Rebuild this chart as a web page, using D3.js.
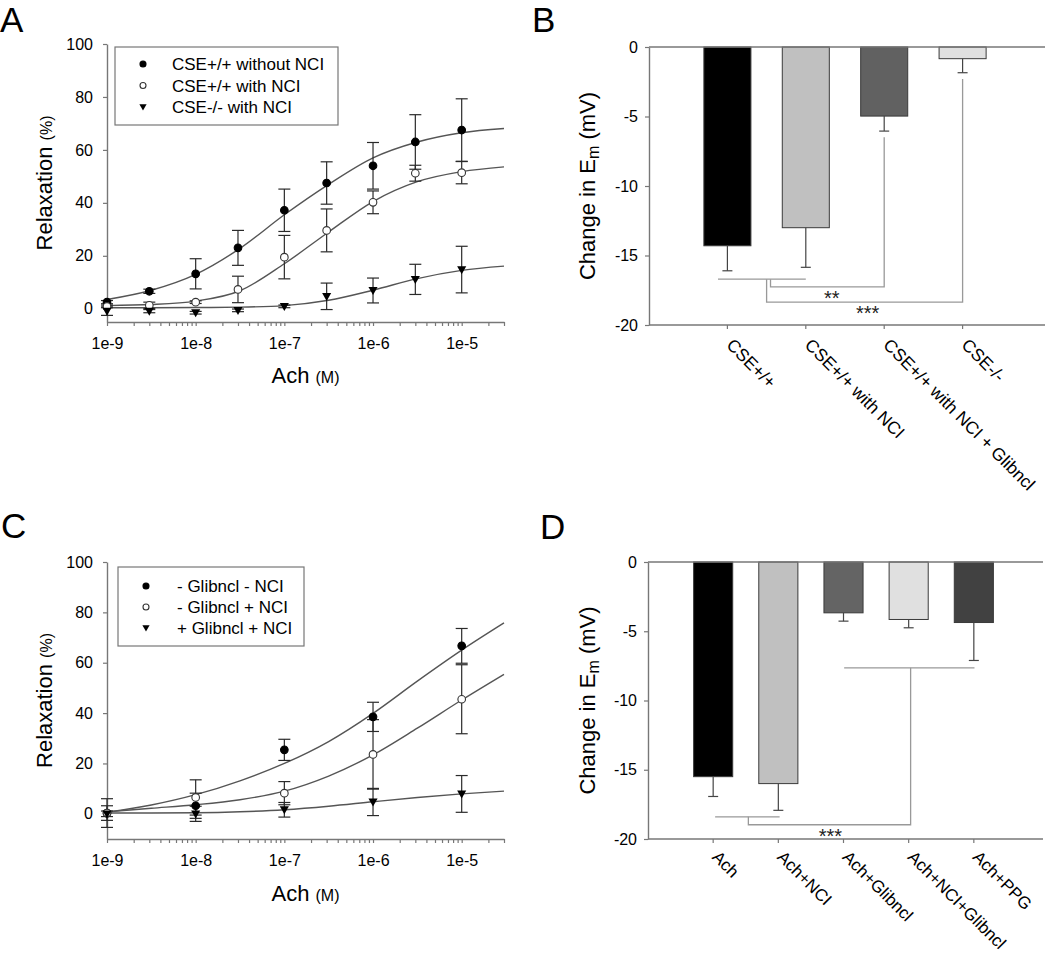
<!DOCTYPE html>
<html><head><meta charset="utf-8">
<script src="https://cdn.jsdelivr.net/npm/d3@7"></script>
<style>
body{margin:0;background:#fff}
svg{display:block}
text{font-family:"Liberation Sans",Arial,Helvetica,sans-serif}
</style>
</head><body>
<svg id="c" width="1050" height="955"></svg>
<script>
// ---------- DATA ----------
// Panel A: concentration-response (Ach, M)
const aConc = [1e-9, 3e-9, 1e-8, 3e-8, 1e-7, 3e-7, 1e-6, 3e-6, 1e-5];
const aWithoutNCI    = [2.5, 6.6, 13.2, 23.0, 37.2, 47.5, 54.0, 63.0, 67.5];
const aWithoutNCIErr = [0.6, 0.8, 5.7, 6.6, 8.0, 8.0, 8.8, 10.3, 11.8];
const aWithNCI       = [0.9, 1.3, 2.5, 7.3, 19.5, 29.6, 40.2, 51.2, 51.4];
const aWithNCIErr    = [0.5, 1.2, 0.5, 5.0, 8.2, 8.1, 4.3, 3.0, 4.2];
const aKOWithNCI     = [-0.9, -0.9, -1.5, -0.6, 0.9, 4.7, 6.9, 11.1, 14.8];
const aKOWithNCIErr  = [1.6, 0.6, 0.5, 0.5, 0.5, 5.0, 4.7, 5.7, 8.8];
// fitted curves
const fitConc = [1e-9, 3.16e-9, 1e-8, 3.16e-8, 1e-7, 3.16e-7, 1e-6, 3.16e-6, 1e-5, 3e-5];
const aFitWithoutNCI = [3.5, 7.0, 13.0, 22.8, 35.5, 47.0, 57.0, 63.0, 66.5, 68.1];
const aFitWithNCI    = [1.2, 1.6, 2.9, 6.8, 17.0, 29.0, 40.5, 48.0, 51.8, 53.6];
const aFitKO         = [0.4, 0.4, 0.45, 0.6, 1.2, 3.2, 7.0, 11.4, 14.5, 16.1];
const aLegend = ["CSE+/+ without NCI", "CSE+/+ with NCI", "CSE-/- with NCI"];

// Panel C
const cConc = [1e-9, 1e-8, 1e-7, 1e-6, 1e-5];
const cNoGlibNoNCI    = [0.3, 3.2, 25.4, 38.5, 66.7];
const cNoGlibNoNCIErr = [2.9, 5.0, 4.2, 5.8, 6.9];
const cNoGlibNCI      = [0.3, 6.5, 8.2, 23.6, 45.5];
const cNoGlibNCIErr   = [5.7, 7.0, 4.6, 13.8, 13.7];
const cGlibNCI        = [0.0, 0.0, 1.6, 4.7, 7.9];
const cGlibNCIErr     = [1.1, 3.0, 2.9, 5.4, 7.3];
const cFitNoGlibNoNCI = [0.6, 3.5, 7.6, 13.1, 20.0, 28.7, 39.9, 52.7, 65.0, 75.8];
const cFitNoGlibNCI   = [0.8, 2.2, 3.6, 5.6, 9.0, 15.0, 23.4, 34.0, 45.2, 55.4];
const cFitGlibNCI     = [0.3, 0.3, 0.4, 0.8, 1.6, 3.0, 4.8, 6.5, 7.9, 9.0];
const cLegend = ["- Glibncl - NCI", "- Glibncl + NCI", "+ Glibncl + NCI"];

// shared ticks
const logTickValues = [1e-9, 1e-8, 1e-7, 1e-6, 1e-5];
const logTickLabels = ["1e-9", "1e-8", "1e-7", "1e-6", "1e-5"];
const relaxTicks = [0, 20, 40, 60, 80, 100];

// Panel B
const bCategories = ["CSE+/+", "CSE+/+ with NCI", "CSE+/+ with NCI + Glibncl", "CSE-/-"];
const bValues = [-14.3, -13.0, -4.97, -0.84];
const bErrors = [1.8, 2.85, 1.08, 1.01];
const bColors = ["#000000", "#c0c0c0", "#616161", "#e0e0e0"];

// Panel D
const dCategories = ["Ach", "Ach+NCI", "Ach+Glibncl", "Ach+NCI+Glibncl", "Ach+PPG"];
const dValues = [-15.5, -16.0, -3.67, -4.15, -4.37];
const dErrors = [1.43, 1.93, 0.6, 0.6, 2.74];
const dColors = ["#000000", "#c0c0c0", "#646464", "#e0e0e0", "#414141"];
const emTicks = [0, -5, -10, -15, -20];

// ---------- DRAW ----------
const svg = d3.select("#c");
const AX = "#777";
const INK = "#2a2a2a";

function panelLetter(t, x, y) {
  svg.append("text").attr("x", x).attr("y", y).attr("font-size", 35).attr("fill", "#000").text(t);
}

function drawMarker(g, type, cx, cy, r) {
  if (type === "tri") {
    const s = r * 1.2;
    g.append("path").attr("d", `M${cx - s},${cy - s * 0.75}L${cx + s},${cy - s * 0.75}L${cx},${cy + s}Z`).attr("fill", "#000");
  } else {
    g.append("circle").attr("cx", cx).attr("cy", cy).attr("r", r)
      .attr("fill", type === "filled" ? "#000" : "#fff")
      .attr("stroke", type === "filled" ? "#000" : "#333").attr("stroke-width", 1.1);
  }
}

function relaxPanel(cfg) {
  const g = svg.append("g");
  const x = d3.scaleLog().domain([1e-9, 3e-5]).range(cfg.xRange);
  const y = d3.scaleLinear().domain(cfg.yDomain).range(cfg.yRange);
  const y0 = cfg.yRange[0];

  const ya = g.append("g").attr("transform", `translate(${cfg.xRange[0]},0)`)
    .call(d3.axisLeft(y).tickValues(relaxTicks).tickSize(4).tickSizeOuter(0).tickPadding(10).tickFormat(d => String(d)));
  const allTicks = x.ticks().filter(v => v <= 3.0001e-5);
  const xa = g.append("g").attr("transform", `translate(0,${y0})`)
    .call(d3.axisBottom(x).tickValues(allTicks).tickSize(4).tickSizeOuter(0).tickPadding(12)
      .tickFormat(v => { const i = logTickValues.findIndex(t => Math.abs(Math.log10(t) - Math.log10(v)) < 1e-6); return i >= 0 ? logTickLabels[i] : ""; }));
  [ya, xa].forEach(a => {
    a.select(".domain").attr("stroke", AX).attr("stroke-width", 1.4);
    a.selectAll(".tick line").attr("stroke", AX).attr("stroke-width", 1.2);
    a.selectAll(".tick text").attr("font-size", 16).attr("fill", "#000").attr("font-family", '"Liberation Sans",Arial,sans-serif');
  });

  const line = d3.line().x((d, i) => x(fitConc[i])).y(d => y(d)).curve(d3.curveMonotoneX);
  cfg.fits.forEach(f => g.append("path").attr("d", line(f)).attr("fill", "none").attr("stroke", "#555").attr("stroke-width", 1.4));

  cfg.series.forEach(s => {
    s.vals.forEach((v, i) => {
      const cx = x(cfg.conc[i]);
      const e = s.errs[i];
      g.append("line").attr("x1", cx).attr("x2", cx).attr("y1", y(v - e)).attr("y2", y(v + e)).attr("stroke", INK).attr("stroke-width", 1.2);
      [v - e, v + e].forEach(w => g.append("line").attr("x1", cx - 6).attr("x2", cx + 6).attr("y1", y(w)).attr("y2", y(w)).attr("stroke", INK).attr("stroke-width", 1.2));
    });
  });
  cfg.series.forEach(s => s.vals.forEach((v, i) => drawMarker(g, s.type, x(cfg.conc[i]), y(v), 3.8)));

  const L = cfg.legend;
  g.append("rect").attr("x", L.x).attr("y", L.y).attr("width", L.w).attr("height", L.h)
    .attr("fill", "#fff").attr("stroke", "#777").attr("stroke-width", 1.2);
  cfg.series.forEach((s, i) => {
    const ry = L.rowY + i * L.rowStep;
    drawMarker(g, s.type, L.mx, ry, 3);
    g.append("text").attr("x", L.tx).attr("y", ry).attr("dy", "0.36em").attr("font-size", 17).attr("fill", "#000").text(L.labels[i]);
  });

  const cx = (cfg.xRange[0] + cfg.xRange[1]) / 2;
  const xt = g.append("text").attr("x", cx).attr("y", cfg.xTitleY).attr("text-anchor", "middle").attr("fill", "#000");
  xt.append("tspan").attr("font-size", 22).text("Ach ");
  xt.append("tspan").attr("font-size", 16).text("(M)");
  const cy = (cfg.yRange[0] + cfg.yRange[1]) / 2;
  const yt = g.append("text").attr("transform", `translate(52,${cy}) rotate(-90)`).attr("text-anchor", "middle").attr("fill", "#000");
  yt.append("tspan").attr("font-size", 22).text("Relaxation ");
  yt.append("tspan").attr("font-size", 16).text("(%)");
}

relaxPanel({
  xRange: [107, 504], yDomain: [-5, 100], yRange: [322, 44], conc: aConc,
  series: [
    {vals: aWithoutNCI, errs: aWithoutNCIErr, type: "filled"},
    {vals: aWithNCI, errs: aWithNCIErr, type: "open"},
    {vals: aKOWithNCI, errs: aKOWithNCIErr, type: "tri"}
  ],
  fits: [aFitWithoutNCI, aFitWithNCI, aFitKO],
  legend: {x: 115, y: 47, w: 223, h: 78, rowY: 64, rowStep: 21.5, mx: 143, tx: 172, labels: aLegend},
  xTitleY: 383
});

relaxPanel({
  xRange: [107, 504], yDomain: [-10, 100], yRange: [839, 562], conc: cConc,
  series: [
    {vals: cNoGlibNoNCI, errs: cNoGlibNoNCIErr, type: "filled"},
    {vals: cNoGlibNCI, errs: cNoGlibNCIErr, type: "open"},
    {vals: cGlibNCI, errs: cGlibNCIErr, type: "tri"}
  ],
  fits: [cFitNoGlibNoNCI, cFitNoGlibNCI, cFitGlibNCI],
  legend: {x: 118, y: 567, w: 186, h: 79, rowY: 586, rowStep: 21, mx: 146, tx: 177, labels: cLegend},
  xTitleY: 901
});

function barPanel(cfg) {
  const g = svg.append("g");
  const n = cfg.cats.length;
  const x = d3.scaleLinear().domain([0, n + 1]).range(cfg.xRange);
  const y = d3.scaleLinear().domain([-20, 0]).range(cfg.yRange);
  const right = cfg.xRange[1] + 4;

  cfg.vals.forEach((v, i) => {
    g.append("rect").attr("x", x(i + 1 - 0.3)).attr("width", x(0.6) - x(0))
      .attr("y", y(0)).attr("height", y(v) - y(0))
      .attr("fill", cfg.colors[i]).attr("stroke", "#3a3a3a").attr("stroke-width", 1);
    const e = v - cfg.errs[i];
    g.append("line").attr("x1", x(i + 1)).attr("x2", x(i + 1)).attr("y1", y(v)).attr("y2", y(e)).attr("stroke", "#444").attr("stroke-width", 1.2);
    g.append("line").attr("x1", x(i + 1) - 5).attr("x2", x(i + 1) + 5).attr("y1", y(e)).attr("y2", y(e)).attr("stroke", "#444").attr("stroke-width", 1.2);
  });

  cfg.brackets.forEach(b => {
    g.append("path").attr("d", d3.line()(b.map(p => [x(p[0]), y(p[1])])))
      .attr("fill", "none").attr("stroke", "#999").attr("stroke-width", 1.3);
  });
  cfg.stars.forEach(s => {
    g.append("text").attr("x", x(s.x)).attr("y", y(s.y)).attr("dy", "0.5em").attr("text-anchor", "middle")
      .attr("font-size", 20).attr("fill", "#222").text(s.t);
  });

  const ya = g.append("g").attr("transform", `translate(${cfg.xRange[0]},0)`)
    .call(d3.axisLeft(y).tickValues(emTicks).tickSize(4).tickSizeOuter(0).tickPadding(7).tickFormat(d => String(d)));
  ya.select(".domain").attr("stroke", AX).attr("stroke-width", 1.4);
  ya.selectAll(".tick line").attr("stroke", AX).attr("stroke-width", 1.2);
  ya.selectAll(".tick text").attr("font-size", 16).attr("fill", "#000");

  g.append("line").attr("x1", cfg.xRange[0]).attr("x2", right).attr("y1", y(0)).attr("y2", y(0)).attr("stroke", AX).attr("stroke-width", 1.4);
  g.append("line").attr("x1", cfg.xRange[0]).attr("x2", right).attr("y1", y(-20)).attr("y2", y(-20)).attr("stroke", AX).attr("stroke-width", 1.4);
  cfg.cats.forEach((c, i) => {
    g.append("line").attr("x1", x(i + 1)).attr("x2", x(i + 1)).attr("y1", y(-20)).attr("y2", y(-20) + 4).attr("stroke", AX).attr("stroke-width", 1.2);
    g.append("text").attr("transform", `translate(${x(i + 1) - 2},${y(-20) + cfg.labelGap}) rotate(45)`)
      .attr("font-size", cfg.labelSize).attr("fill", "#000").text(c);
  });

  const cy = (cfg.yRange[0] + cfg.yRange[1]) / 2;
  const yt = g.append("text").attr("transform", `translate(${cfg.yTitleX},${cy}) rotate(-90)`).attr("text-anchor", "middle").attr("fill", "#000").attr("font-size", 22);
  yt.append("tspan").text("Change in E");
  yt.append("tspan").attr("font-size", 16).attr("dy", 4).text("m");
  yt.append("tspan").attr("dy", -4).text(" (mV)");
}

barPanel({
  cats: bCategories, vals: bValues, errs: bErrors, colors: bColors,
  xRange: [649, 1041], yRange: [325, 47], yTitleX: 595, labelSize: 17.5, labelGap: 21,
  brackets: [
    [[0.88, -16.7], [2.0, -16.7]],
    [[1.55, -16.7], [1.55, -17.25], [3.0, -17.25], [3.0, -6.5]],
    [[1.5, -16.7], [1.5, -18.35], [4.0, -18.35], [4.0, -2.3]]
  ],
  stars: [{x: 2.33, y: -17.85, t: "**"}, {x: 2.79, y: -18.95, t: "***"}]
});

barPanel({
  cats: dCategories, vals: dValues, errs: dErrors, colors: dColors,
  xRange: [648, 1039], yRange: [839, 562], yTitleX: 595, labelSize: 17, labelGap: 19,
  brackets: [
    [[1.03, -18.4], [2.02, -18.4]],
    [[1.54, -18.4], [1.54, -18.97], [4.03, -18.97], [4.03, -7.64]],
    [[3.01, -7.64], [5.01, -7.64]]
  ],
  stars: [{x: 2.8, y: -19.55, t: "***"}]
});

panelLetter("A", 0, 32);
panelLetter("B", 532, 32);
panelLetter("C", 1, 538);
panelLetter("D", 540, 539);
</script>
</body></html>
